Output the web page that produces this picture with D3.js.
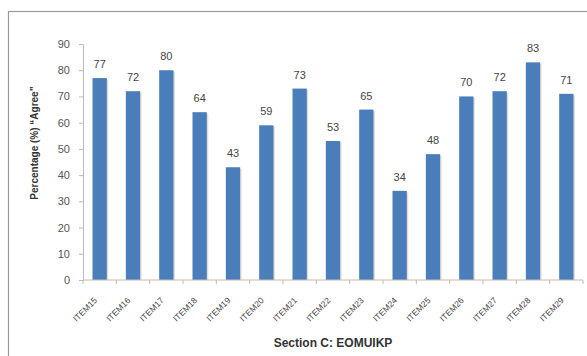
<!DOCTYPE html>
<html>
<head>
<meta charset="utf-8">
<script src="https://cdn.jsdelivr.net/npm/d3@7"></script>
<style>
  html, body { margin: 0; padding: 0; background: #fff; }
  svg { display: block; }
  text { font-family: "Liberation Sans", Arial, sans-serif; }
</style>
</head>
<body>
<svg id="chart" width="587" height="356"></svg>
<script>
// Survey items and the share of respondents who agreed (%)
const items = ["ITEM15","ITEM16","ITEM17","ITEM18","ITEM19","ITEM20","ITEM21","ITEM22",
               "ITEM23","ITEM24","ITEM25","ITEM26","ITEM27","ITEM28","ITEM29"];
const agree = [77, 72, 80, 64, 43, 59, 73, 53, 65, 34, 48, 70, 72, 83, 71];
const yTicks = [0, 10, 20, 30, 40, 50, 60, 70, 80, 90];

const svg = d3.select("#chart");
const W = 587, H = 356;

// chart frame
svg.append("rect")
  .attr("x", 8.5).attr("y", 11.5)
  .attr("width", W + 10).attr("height", H + 10)
  .attr("fill", "#fff").attr("stroke", "#9a9a9a").attr("stroke-width", 1.2);

const m = { left: 83, right: 4, top: 44, bottom: 76 };
const x = d3.scaleBand().domain(items).range([m.left, W - m.right]).paddingInner(0.57).paddingOuter(0.285);
const y = d3.scaleLinear().domain([0, 90]).range([H - m.bottom, m.top]);

const data = items.map((k, i) => ({ k, v: agree[i] }));

// bar shadows
svg.append("g").selectAll("rect").data(data).join("rect")
  .attr("x", d => x(d.k) + 1.5)
  .attr("y", d => y(d.v) + 1.5)
  .attr("width", x.bandwidth())
  .attr("height", d => y(0) - y(d.v) - 1.5)
  .attr("fill", "#c9b8a8").attr("opacity", 0.45);

// bars
svg.append("g").selectAll("rect").data(data).join("rect")
  .attr("x", d => x(d.k))
  .attr("y", d => y(d.v))
  .attr("width", x.bandwidth())
  .attr("height", d => y(0) - y(d.v))
  .attr("fill", "#4A7EBB");

// value labels
svg.append("g").selectAll("text").data(data).join("text")
  .attr("x", d => x(d.k) + x.bandwidth() / 2)
  .attr("y", d => y(d.v) - 10)
  .attr("text-anchor", "middle")
  .attr("font-size", 11)
  .attr("fill", "#444")
  .text(d => d.v);

// y axis
const yAxis = svg.append("g")
  .attr("transform", `translate(${m.left},0)`)
  .call(d3.axisLeft(y).tickValues(yTicks).tickSize(4).tickPadding(9));
yAxis.select(".domain").attr("stroke", "#bbb");
yAxis.selectAll(".tick line").attr("stroke", "#bbb");
yAxis.selectAll(".tick text").attr("font-size", 11).attr("fill", "#555");

// x axis: ticks sit between categories
const xAxisG = svg.append("g").attr("transform", `translate(0,${y(0)})`);
xAxisG.append("line")
  .attr("x1", m.left).attr("x2", W - m.right)
  .attr("stroke", "#c8b8b0");
const step = x.step();
xAxisG.selectAll("line.tk").data(d3.range(items.length + 1)).join("line")
  .attr("class", "tk")
  .attr("x1", i => m.left + i * step).attr("x2", i => m.left + i * step)
  .attr("y1", 0).attr("y2", 4)
  .attr("stroke", "#c8b8b0");
xAxisG.selectAll("text").data(items).join("text")
  .attr("transform", d => `translate(${x(d) + x.bandwidth() / 2 - 2},${21}) rotate(-45)`)
  .attr("text-anchor", "end")
  .attr("font-size", 8.5)
  .attr("fill", "#444")
  .text(d => d);

// axis titles
svg.append("text")
  .attr("transform", `translate(38,143) rotate(-90)`)
  .attr("text-anchor", "middle")
  .attr("font-family", "'Liberation Sans Narrow', 'Liberation Sans', Arial, sans-serif")
  .attr("font-size", 10)
  .attr("font-weight", "bold")
  .attr("fill", "#333")
  .text("Percentage (%) \u201CAgree\u201D");

svg.append("text")
  .attr("x", 333).attr("y", 347)
  .attr("text-anchor", "middle")
  .attr("font-size", 12)
  .attr("font-weight", "bold")
  .attr("fill", "#333")
  .text("Section C: EOMUIKP");
</script>
</body>
</html>
